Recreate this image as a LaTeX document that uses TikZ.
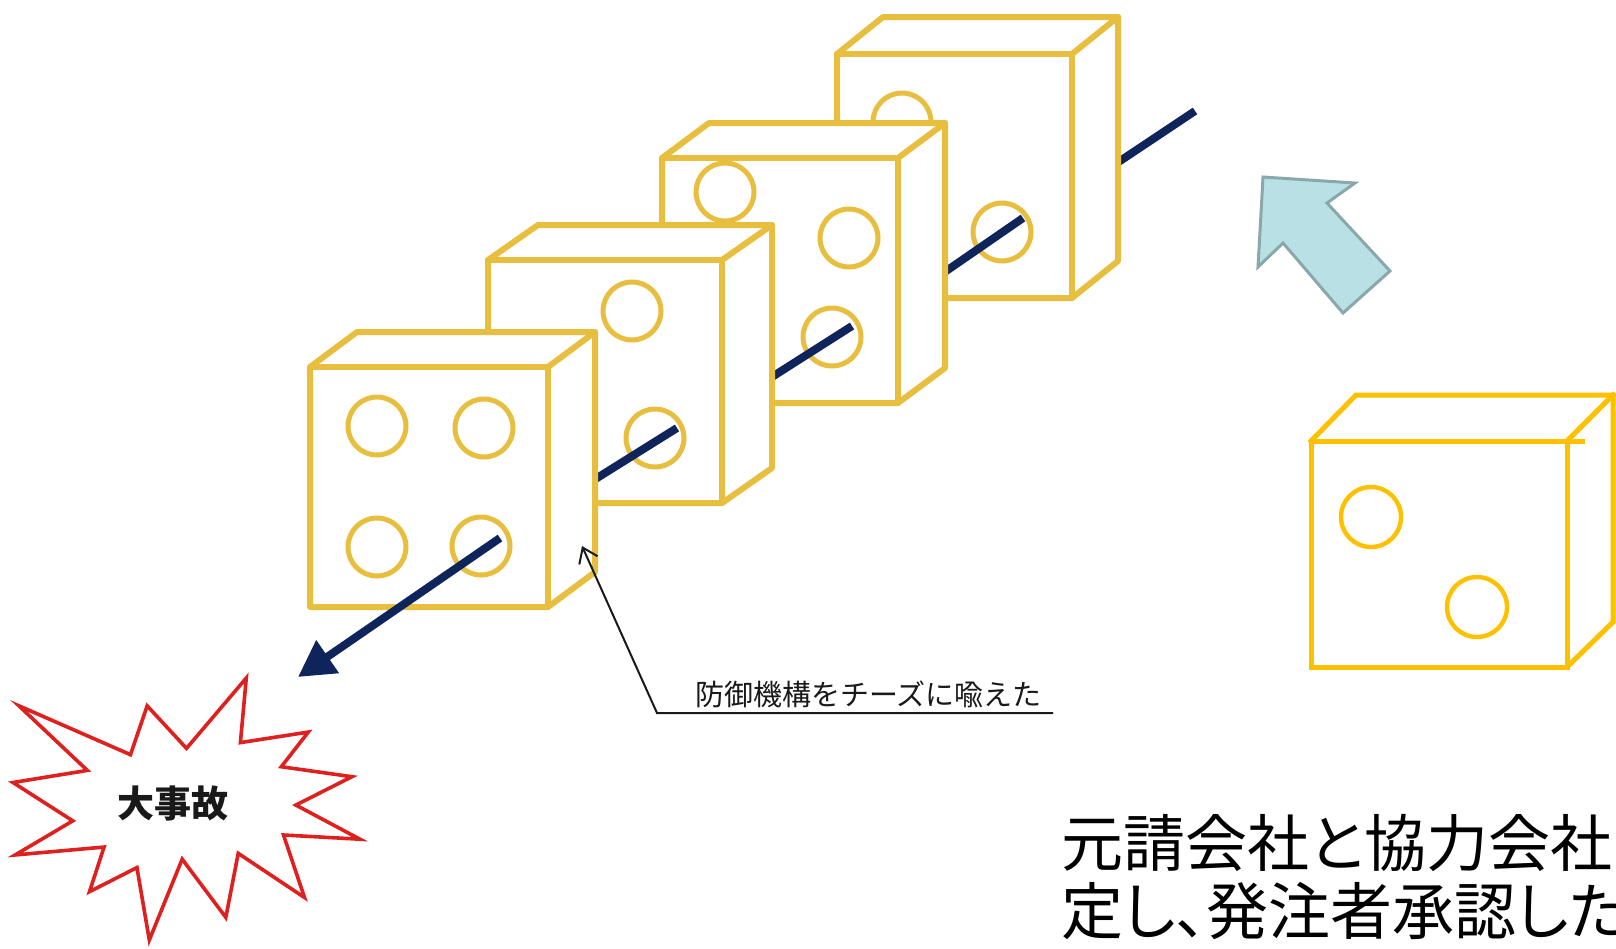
\documentclass[tikz,border=0pt]{standalone}
\usepackage{fontspec}
\newfontfamily\jpsans{Noto Sans CJK JP}
\newfontfamily\jpsansp{Noto Sans CJK JP}[RawFeature=+palt]
\usetikzlibrary{arrows.meta}

\definecolor{cheesegold}{RGB}{232,190,62}
\definecolor{navyline}{RGB}{16,36,92}
\definecolor{boomred}{RGB}{222,32,30}
\definecolor{arrowfill}{RGB}{185,224,228}
\definecolor{arrowedge}{RGB}{138,168,170}
\definecolor{blockgold}{RGB}{255,192,0}

\tikzset{
  cheese/.style={draw=cheesegold, line width=3pt, line join=round, fill=white},
  cheeseedge/.style={draw=cheesegold, line width=3pt, line join=round, line cap=round},
  hole/.style={draw=cheesegold, line width=2.5pt},
  thread/.style={draw=navyline, line width=4pt},
  boom/.style={draw=boomred, line width=1.8pt, fill=white, line join=miter},
  bigarrow/.style={draw=arrowedge, fill=arrowfill, line width=1.5pt, line join=miter},
  plainblock/.style={draw=blockgold, line width=2.5pt, line cap=rect},
  plainhole/.style={draw=blockgold, line width=2.2pt},
  leader/.style={draw=black!90, line width=1pt},
}

% box with front face (#1,#2)-(#3,#4), receding by (#5,-#6)
\newcommand{\cheeseblock}[6]{%
  \path[cheese] (#1,#2) -- (#1+#5,#2-#6) -- (#3+#5,#2-#6) -- (#3+#5,#4-#6)
     -- (#3,#4) -- (#1,#4) -- cycle;
  \draw[cheeseedge] (#1,#2) -- (#3,#2) -- (#3,#4);
  \draw[cheeseedge] (#3,#2) -- (#3+#5,#2-#6);
}

\begin{document}
\begin{tikzpicture}[x=0.5pt,y=-0.5pt]
\useasboundingbox (0,0) rectangle (1616,948);
\clip (0,0) rectangle (1616,948);

% ---- cheese slices, back to front, with the thread through the holes ----
\coordinate (t5a) at (1195,111);
\coordinate (t5b) at (1108,169);
\draw[thread] (t5a) -- (t5b);

\cheeseblock{837}{54}{1072}{298}{46}{37}
\draw[hole] (902,122) circle[radius=29];
\draw[hole] (1002,232) circle[radius=29];
\coordinate (t4a) at (1023,218);
\coordinate (t4b) at (936,278);
\draw[thread] (t4a) -- (t4b);

\cheeseblock{662}{158}{898}{403}{47}{35}
\draw[hole] (725,192) circle[radius=29];
\draw[hole] (849,238) circle[radius=29];
\draw[hole] (832,337) circle[radius=29];
\coordinate (t3a) at (852,326);
\coordinate (t3b) at (764,382);
\draw[thread] (t3a) -- (t3b);

\cheeseblock{488}{260}{722}{503}{50}{35}
\draw[hole] (632,311) circle[radius=29];
\draw[hole] (655,438) circle[radius=29];
\coordinate (t2a) at (677,428);
\coordinate (t2b) at (589,483);
\draw[thread] (t2a) -- (t2b);

\cheeseblock{310}{367}{548}{607}{47}{35}
\draw[hole] (377,426) circle[radius=29];
\draw[hole] (484,428) circle[radius=29];
\draw[hole] (377,547) circle[radius=29];
\draw[hole] (481,546) circle[radius=29];
\coordinate (t1a) at (500,538);
\coordinate (t1b) at (298,677);
\draw[thread, -{Triangle[length=18pt,width=19pt]}] (t1a) -- (t1b);

% ---- explosion ----
\begin{scope}[shift={(13,678)}, xscale=1.6065, yscale=1.213]
  \path[boom] (108.00,58.00) -- (145.22,0) -- (141.55,53.25) -- (183.80,44.57)
    -- (167.02,73.15) -- (210.97,81.37) -- (176.07,104.75) -- (216,132.90)
    -- (168.37,129.42) -- (181.45,180.95) -- (140.20,144.57) -- (132.47,197.37)
    -- (105.32,149.35) -- (84.85,216) -- (77.15,156.27) -- (47.62,176.17)
    -- (56.67,139.37) -- (1.35,145.87) -- (37.22,117.75) -- (0,86.15)
    -- (46.27,76.17) -- (3.70,22.95) -- (73.12,63.20) -- (83.52,22.95) -- cycle;
\end{scope}
\node[font=\jpsans\bfseries\fontsize{18.5pt}{18.5pt}\selectfont, text=black!90]
  (accident) at (173,803) {大事故};

% ---- annotation with leader ----
\node[anchor=base west, inner sep=0, text=black!90,
      font=\jpsans\fontsize{14.5pt}{14.5pt}\selectfont]
  (note) at (695,705) {防御機構をチーズに喩えた};
\coordinate (ulr) at (1053,713);
\coordinate (ull) at (657,713);
\coordinate (tip) at (582,546);
\draw[leader, -{Straight Barb[length=7pt,width=10pt]}] (ulr) -- (ull) -- (tip);

% ---- block arrow ----
\path[bigarrow] (1263,177) -- (1355,183) -- (1327,203) -- (1390,271)
  -- (1343,313) -- (1283,243) -- (1258,267) -- cycle;

% ---- single slice on the right ----
\draw[plainblock] (1311,441) rectangle (1567,667);
\draw[plainblock] (1311,441) -- (1356,395) -- (1613,395) -- (1613,622) -- (1567,667);
\draw[plainblock] (1567,441) -- (1613,395);
\draw[plainblock] (1567,441) -- (1582,441);
\draw[plainhole] (1371,517) circle[radius=30];
\draw[plainhole] (1477,607) circle[radius=30];

% ---- caption ----
\node[anchor=base west, inner sep=0, font=\jpsansp\fontsize{31pt}{31pt}\selectfont]
  (captionA) at (1061,866) {元請会社と協力会社};
\node[anchor=base west, inner sep=0, font=\jpsansp\fontsize{31pt}{31pt}\selectfont]
  (captionB) at (1061,934) {定し、発注者承認した};
\end{tikzpicture}
\end{document}
